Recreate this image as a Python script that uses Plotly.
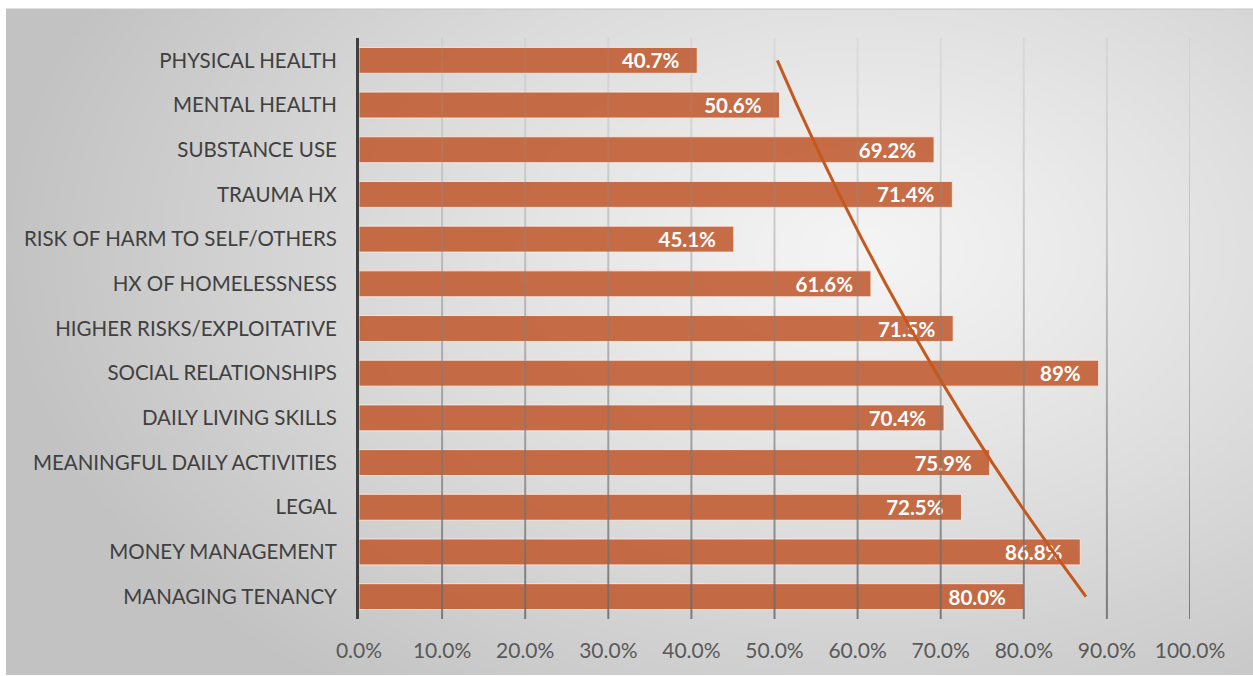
import base64
import struct
import zlib

import numpy as np
import plotly.graph_objects as go

# ---- data -----------------------------------------------------------------
categories = [
    "PHYSICAL HEALTH",
    "MENTAL HEALTH",
    "SUBSTANCE USE",
    "TRAUMA HX",
    "RISK OF HARM TO SELF/OTHERS",
    "HX OF HOMELESSNESS",
    "HIGHER RISKS/EXPLOITATIVE",
    "SOCIAL RELATIONSHIPS",
    "DAILY LIVING SKILLS",
    "MEANINGFUL DAILY ACTIVITIES",
    "LEGAL",
    "MONEY MANAGEMENT",
    "MANAGING TENANCY",
]
values = [0.407, 0.506, 0.692, 0.714, 0.451, 0.616, 0.715,
          0.89, 0.704, 0.759, 0.725, 0.868, 0.800]
value_labels = ["40.7%", "50.6%", "69.2%", "71.4%", "45.1%", "61.6%", "71.5%",
                "89%", "70.4%", "75.9%", "72.5%", "86.8%", "80.0%"]
x_ticks = [0.0, 0.1, 0.2, 0.3, 0.4, 0.5, 0.6, 0.7, 0.8, 0.9, 1.0]

# ---- geometry --------------------------------------------------------------
W, H = 1253, 676
PLOT_L, PLOT_R, PLOT_T, PLOT_B = 359, 1190, 38, 619
AREA_L, AREA_T, AREA_R, AREA_B = 6, 9, 1253, 675

FONT = "Lato"
BAR_COLOR = "rgba(193,94,52,0.9)"
TREND_COLOR = "#C4581E"

n = len(categories)
pos = np.arange(n)


def gray_png(arr):
    """Encode a 2-D uint8 array as a grayscale PNG."""
    h, w = arr.shape
    raw = b"".join(b"\x00" + arr[r].tobytes() for r in range(h))

    def chunk(tag, data):
        return (struct.pack(">I", len(data)) + tag + data
                + struct.pack(">I", zlib.crc32(tag + data) & 0xFFFFFFFF))

    return (b"\x89PNG\r\n\x1a\n"
            + chunk(b"IHDR", struct.pack(">IIBBBBB", w, h, 8, 0, 0, 0, 0))
            + chunk(b"IDAT", zlib.compress(raw, 9))
            + chunk(b"IEND", b""))


# radial background shading of the chart area
gw, gh = 312, 166
gx = AREA_L + (np.arange(gw) + 0.5) * (AREA_R - AREA_L) / gw
gy = AREA_T + (np.arange(gh) + 0.5) * (AREA_B - AREA_T) / gh
GX, GY = np.meshgrid(gx, gy)
t = np.clip(np.sqrt(((GX - 860) / 860) ** 2 + ((GY - 250) / 560) ** 2), 0, 1)
shade = np.round(244 - 50 * t ** 1.15).astype(np.uint8)
bg_uri = "data:image/png;base64," + base64.b64encode(gray_png(shade)).decode()

fig = go.Figure()

# vertical gridlines, faint at the top and darker towards the bottom
half_w = 1.0 / (PLOT_R - PLOT_L)
for tv in x_ticks[1:]:
    fig.add_trace(go.Scatter(
        x=[tv - half_w, tv + half_w, tv + half_w, tv - half_w, tv - half_w],
        y=[-0.5, -0.5, n - 0.5, n - 0.5, -0.5],
        mode="none",
        fill="toself",
        fillgradient=dict(type="vertical", start=-0.5, stop=n - 0.5,
                          colorscale=[[0, "rgba(150,150,150,0.12)"],
                                      [1, "rgba(105,105,105,0.85)"]]),
        hoverinfo="skip",
        showlegend=False,
    ))

# bars with values written inside their ends
nbsp = "\u00a0"
fig.add_trace(go.Bar(
    x=values,
    y=pos,
    orientation="h",
    width=0.58,
    marker=dict(color=BAR_COLOR, line=dict(color="rgba(255,236,228,0.85)", width=1)),
    text=[lbl + nbsp * 3 for lbl in value_labels],
    textposition="inside",
    insidetextanchor="end",
    constraintext="none",
    textfont=dict(color="white", size=20.5, family=FONT, weight="bold"),
    hoverinfo="x+y",
    showlegend=False,
))

# exponential trendline, fitted on the category order counted from the bottom
k = np.arange(n, 0, -1)
slope, intercept = np.polyfit(k, np.log(values), 1)
trend = np.exp(intercept + slope * k)
fig.add_trace(go.Scatter(
    x=trend,
    y=pos,
    mode="lines",
    line=dict(color=TREND_COLOR, width=3),
    hoverinfo="skip",
    showlegend=False,
))

fig.update_layout(
    width=W,
    height=H,
    autosize=False,
    margin=dict(l=0, r=0, t=0, b=0, autoexpand=False),
    paper_bgcolor="white",
    plot_bgcolor="rgba(0,0,0,0)",
    font=dict(family=FONT),
    showlegend=False,
    images=[dict(
        source=bg_uri,
        xref="paper", yref="paper",
        x=AREA_L / W, y=1 - AREA_T / H,
        sizex=(AREA_R - AREA_L) / W, sizey=(AREA_B - AREA_T) / H,
        xanchor="left", yanchor="top",
        sizing="stretch",
        layer="below",
    )],
    shapes=[dict(
        type="line", xref="paper", yref="paper",
        x0=AREA_L / W, x1=1, y0=1 - AREA_T / H, y1=1 - AREA_T / H,
        line=dict(color="#c4c4c4", width=1),
    )],
    xaxis=dict(
        domain=[PLOT_L / W, PLOT_R / W],
        range=[0, 1],
        tickvals=x_ticks,
        tickformat=".1%",
        showgrid=False,
        zeroline=False,
        showline=False,
        ticks="",
        automargin=False,
        ticklabelstandoff=17,
        tickfont=dict(size=21, color="#595959", family=FONT),
    ),
    yaxis=dict(
        domain=[(H - PLOT_B) / H, (H - PLOT_T) / H],
        range=[n - 0.5, -0.5],
        tickvals=pos,
        ticktext=categories,
        showgrid=False,
        zeroline=False,
        showline=True,
        linecolor="#404040",
        linewidth=3,
        ticks="",
        automargin=False,
        ticklabelstandoff=15,
        tickfont=dict(size=20.5, color="#404040", family=FONT),
    ),
)

fig.write_html("out.html")
